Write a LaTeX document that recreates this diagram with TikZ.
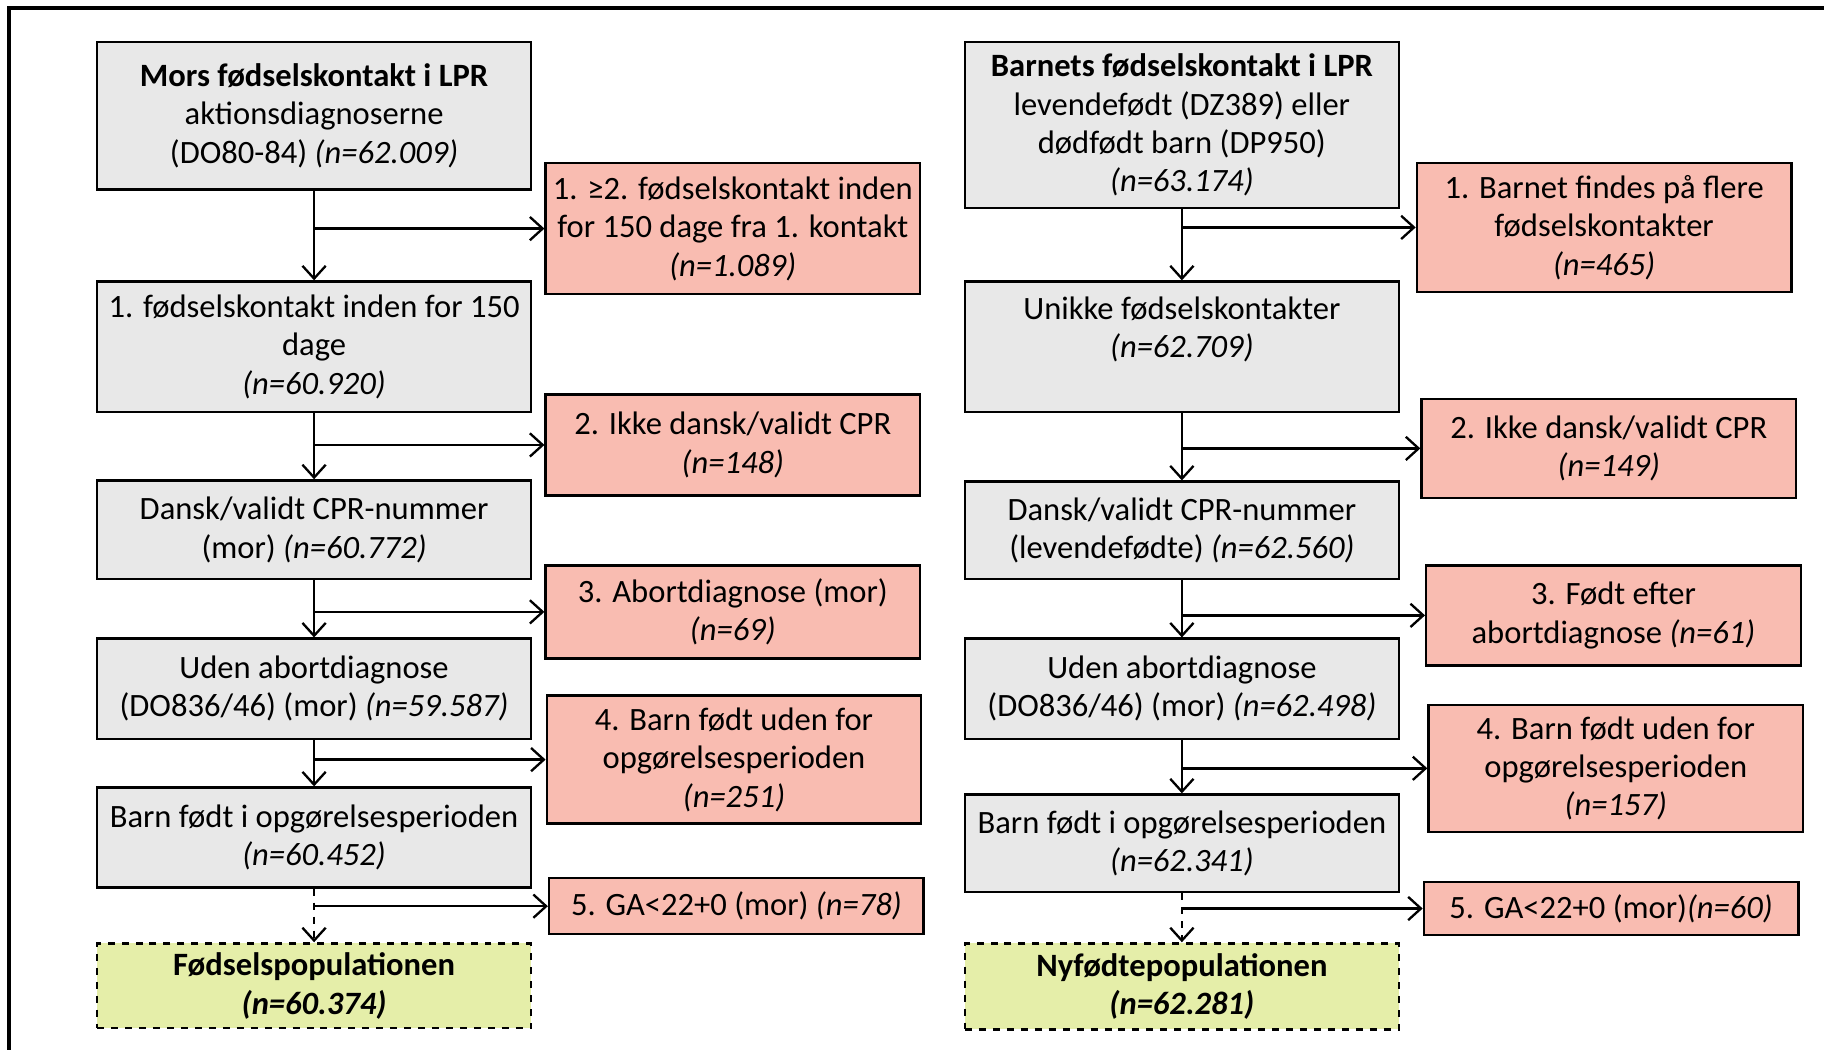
\documentclass[tikz,border=0pt]{standalone}
\usepackage{fontspec}
\setmainfont{Carlito}
\usetikzlibrary{arrows.meta}

\definecolor{boxgray}{HTML}{E8E8E8}
\definecolor{exclred}{HTML}{F9BCB1}
\definecolor{popgreen}{HTML}{E5EEA9}

\tikzset{
  flowbox/.style={draw=black,line width=1pt,align=center,inner sep=2pt,
    font=\fontsize{14}{16.5}\selectfont},
  keepbox/.style={flowbox,fill=boxgray,minimum width=186.5pt},
  exclbox/.style={flowbox,fill=exclred,minimum width=161pt},
  popbox/.style={keepbox,fill=popgreen,dashed,
    font=\fontsize{14}{16.5}\selectfont\bfseries},
}

\begin{document}
\begin{tikzpicture}[x=0.5pt,y=-0.5pt,line width=1pt,
  >={Straight Barb[length=5.5pt,width=10pt]}]
  \def\W{1568}
  \def\H{903}
  \def\lx{270}
  \def\rx{1016}

  \useasboundingbox (0,0) rectangle (\W,\H);
  \draw[line width=1.6pt] (\W,7) -- (8,7) -- (8,\H);

  % mother's birth contacts
  \node[keepbox,minimum height=63.5pt] (m0) at (\lx,99.5)
    {\textbf{Mors fødselskontakt i LPR}\\aktionsdiagnoserne\\(DO80-84) \textit{(n=62.009)}};
  \node[keepbox,minimum height=56pt] (m1) at (\lx,298)
    {1. fødselskontakt inden for 150\\dage\\\textit{(n=60.920)}};
  \node[keepbox,minimum height=42.5pt] (m2) at (\lx,455.5)
    {Dansk/validt CPR-nummer\\(mor) \textit{(n=60.772)}};
  \node[keepbox,minimum height=43pt] (m3) at (\lx,592)
    {Uden abortdiagnose\\(DO836/46) (mor) \textit{(n=59.587)}};
  \node[keepbox,minimum height=43pt] (m4) at (\lx,720)
    {Barn født i opgørelsesperioden\\\textit{(n=60.452)}};
  \node[popbox,minimum height=36.5pt] (m5) at (\lx,847.5)
    {Fødselspopulationen\\\textit{(n=60.374)}};

  \node[exclbox,minimum height=56.5pt] (e1) at (630,196.5)
    {1. ≥2. fødselskontakt inden\\for 150 dage fra 1. kontakt\\\textit{(n=1.089)}};
  \node[exclbox,minimum height=43.5pt] (e2) at (630,382.5)
    {2. Ikke dansk/validt CPR\\\textit{(n=148)}};
  \node[exclbox,minimum height=40pt] (e3) at (630,526)
    {3. Abortdiagnose (mor)\\\textit{(n=69)}};
  \node[exclbox,minimum height=55pt] (e4) at (631,653)
    {4. Barn født uden for\\opgørelsesperioden\\\textit{(n=251)}};
  \node[exclbox,minimum height=24pt] (e5) at (633,779)
    {5. GA<22+0 (mor) \textit{(n=78)}};

  % child's birth contacts
  \node[keepbox,minimum height=71.5pt] (b0) at (\rx,107.5)
    {\textbf{Barnets fødselskontakt i LPR}\\levendefødt (DZ389) eller\\dødfødt barn (DP950)\\\textit{(n=63.174)}};
  \node[keepbox,minimum height=56pt] (b1) at (\rx,298)
    {Unikke fødselskontakter\\\textit{(n=62.709)}\\\mbox{}};
  \node[keepbox,minimum height=42pt] (b2) at (\rx,456)
    {Dansk/validt CPR-nummer\\(levendefødte) \textit{(n=62.560)}};
  \node[keepbox,minimum height=43pt] (b3) at (\rx,592)
    {Uden abortdiagnose\\(DO836/46) (mor) \textit{(n=62.498)}};
  \node[keepbox,minimum height=42pt] (b4) at (\rx,725)
    {Barn født i opgørelsesperioden\\\textit{(n=62.341)}};
  \node[popbox,minimum height=37pt] (b5) at (\rx,848)
    {Nyfødtepopulationen\\\textit{(n=62.281)}};

  \node[exclbox,minimum height=55.5pt] (f1) at (1379,195.5)
    {1. Barnet findes på flere\\fødselskontakter\\\textit{(n=465)}};
  \node[exclbox,minimum height=42.5pt] (f2) at (1383,385.5)
    {2. Ikke dansk/validt CPR\\\textit{(n=149)}};
  \node[exclbox,minimum height=43pt] (f3) at (1387,529)
    {3. Født efter\\abortdiagnose \textit{(n=61)}};
  \node[exclbox,minimum height=54.5pt] (f4) at (1389,660.5)
    {4. Barn født uden for\\opgørelsesperioden\\\textit{(n=157)}};
  \node[exclbox,minimum height=23pt] (f5) at (1385,781)
    {5. GA<22+0 (mor)\textit{(n=60)}};

  % trunks and exclusion branches
  \foreach \a/\b/\e in {m0/m1/e1,m1/m2/e2,m2/m3/e3,m3/m4/e4,
                        b0/b1/f1,b1/b2/f2,b2/b3/f3,b3/b4/f4} {
    \draw[->] (\a.south) -- (\a.south |- \b.north);
    \draw[->] (\a.south |- \e.west) -- (\e.west);
  }
  \foreach \a/\b/\e in {m4/m5/e5,b4/b5/f5} {
    \draw[->,dashed] (\a.south) -- (\a.south |- \b.north);
    \draw[->] (\a.south |- \e.west) -- (\e.west);
  }
\end{tikzpicture}
\end{document}
